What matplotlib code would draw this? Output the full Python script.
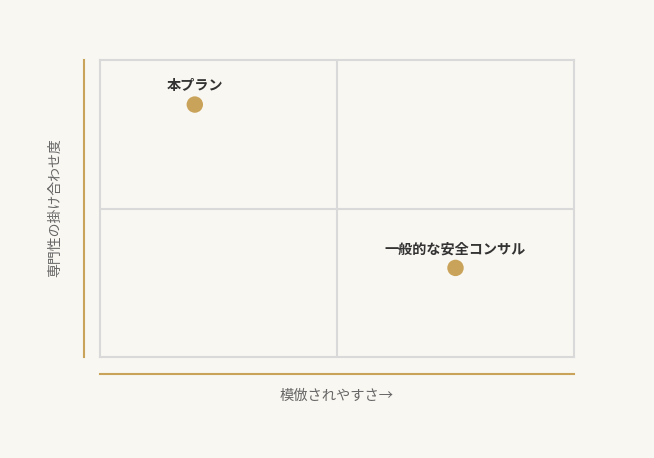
import matplotlib.pyplot as plt

plt.rcParams['font.family'] = ['Noto Sans CJK JP', 'DejaVu Sans']

names = ["本プラン", "一般的な安全コンサル"]
imitability = [20, 75]
expertise = [85, 30]

bg = "#f9f7f2"
gold = "#c9a35a"
gridc = "#d9d9d9"

fig = plt.figure(figsize=(6.54, 4.58), dpi=100, facecolor=bg)
ax = fig.add_axes([100 / 654, 101 / 458, 474 / 654, 297 / 458])
ax.set_facecolor(bg)

ax.set_xlim(0, 100)
ax.set_ylim(0, 100)
ax.set_xticks([])
ax.set_yticks([])
for s in ax.spines.values():
    s.set_color(gridc)
    s.set_linewidth(1.5)

ax.axvline(50, color=gridc, lw=1.5)
ax.axhline(50, color=gridc, lw=1.5)

ax.scatter(imitability, expertise, s=140, color=gold, zorder=3, edgecolor="none")
for x, y, n in zip(imitability, expertise, names):
    ax.annotate(n, (x, y), xytext=(0, 13.3), textcoords="offset points",
                ha="center", va="center", fontsize=10.2, fontweight="bold", color="#333333")

# gold axis lines outside the box
ax.plot([-16 / 474, -16 / 474], [0, 1], transform=ax.transAxes, color=gold, lw=1.5, clip_on=False)
ax.plot([0, 1], [-17 / 297, -17 / 297], transform=ax.transAxes, color=gold, lw=1.5, clip_on=False)

fig.text(337 / 654, 1 - 395.5 / 458, "模倣されやすさ→", ha="center", va="center", fontsize=10.3, color="#666666")
fig.text(55 / 654, 1 - 208 / 458, "専門性の掛け合わせ度", ha="center", va="center", rotation=90,
         fontsize=10, color="#666666")

fig.savefig("out.png", dpi=100, facecolor=bg)
